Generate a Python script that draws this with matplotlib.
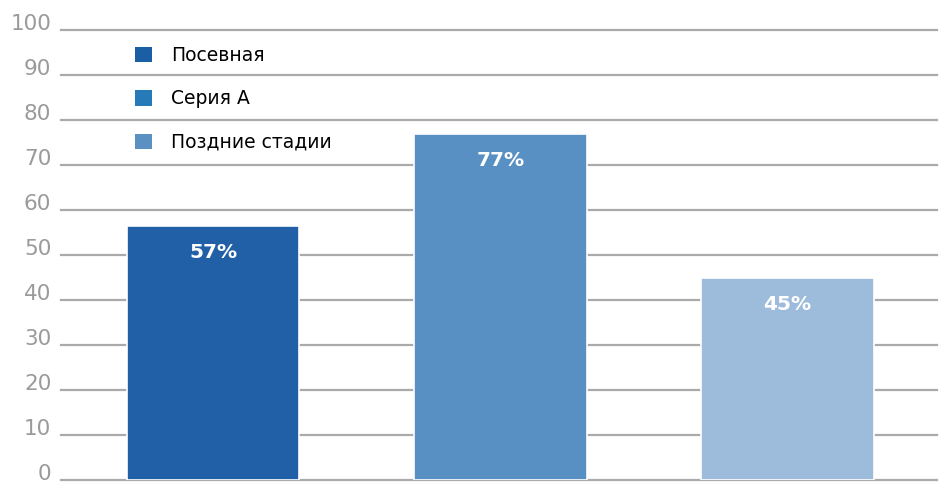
import matplotlib.pyplot as plt
from matplotlib.patches import Patch

categories = ['Посевная', 'Серия А', 'Поздние стадии']
heights = [56.5, 77, 45]
labels = ['57%', '77%', '45%']
bar_colors = ['#2160a6', '#5890c3', '#9dbcdc']
legend_colors = ['#1a5ea6', '#267ab8', '#5b90c3']
yticks = [0, 10, 20, 30, 40, 50, 60, 70, 80, 90, 100]

fig = plt.figure(figsize=(9.43, 4.83), dpi=100)
ax = fig.add_axes([61 / 943, 3 / 483, 876 / 943, 450 / 483])

x = range(len(categories))
ax.bar(x, heights, width=0.6, color=bar_colors, edgecolor='white',
       linewidth=1.2, zorder=3)
for i, (h, lab) in enumerate(zip(heights, labels)):
    ax.text(i, h - 6, lab, ha='center', va='center', color='white',
            fontsize=14.5, fontweight='bold', zorder=4)

ax.set_xlim(-0.53, 2.52)
ax.set_ylim(0, 100)
ax.set_yticks(yticks)
ax.set_xticks([])
ax.grid(axis='y', color='#aaaaaa', linewidth=1.6, zorder=0)
for gl in ax.get_ygridlines():
    gl.set_clip_on(False)
ax.tick_params(axis='y', length=0, pad=7, labelsize=15.5, labelcolor='#9a9a9a')
for t in ax.get_yticklabels():
    t.set_va('baseline')
for s in ax.spines.values():
    s.set_visible(False)

handles = [Patch(facecolor=c, edgecolor='none') for c in legend_colors]
ax.legend(handles, categories, loc='upper left', bbox_to_anchor=(0.074, 0.985),
          frameon=False, fontsize=13.5, handlelength=0.9, handleheight=0.9,
          handletextpad=1.0, labelspacing=1.3, borderpad=0)

fig.savefig('out.png', dpi=100)
